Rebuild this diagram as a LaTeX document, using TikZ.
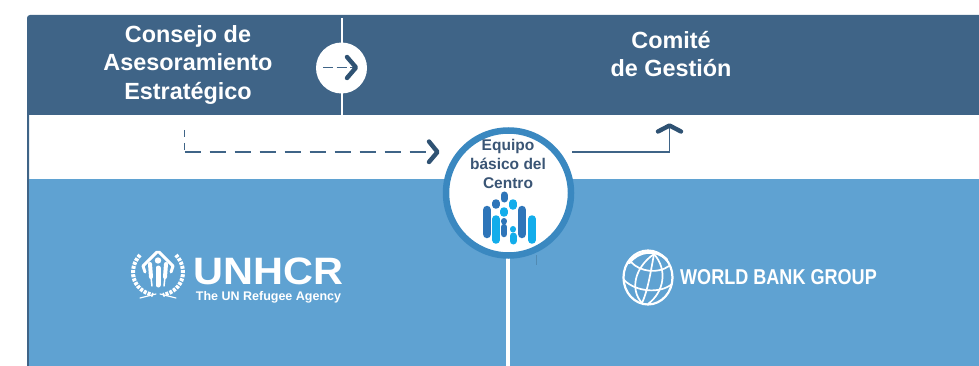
\documentclass[tikz,border=0pt]{standalone}
\usepackage{fontspec}
\setmainfont{Liberation Sans}
\usetikzlibrary{positioning,arrows,calc,shapes.geometric}
\definecolor{headblue}{HTML}{3F6487}
\definecolor{bandblue}{HTML}{5FA2D2}
\definecolor{ringblue}{HTML}{3A88C0}
\definecolor{arrowblue}{HTML}{2F5273}
\definecolor{textblue}{HTML}{3A5575}
\definecolor{iconblue}{HTML}{2E75B9}
\definecolor{iconlight}{HTML}{12ADEB}
\tikzset{
  headtext/.style={font=\bfseries\fontsize{23.4}{28.5}\selectfont,text=white,align=center},
  hubtext/.style={font=\bfseries\fontsize{15.5}{19}\selectfont,text=textblue,align=center},
  chevron/.style={arrowblue,line width=4.4pt,line cap=round,line join=round},
  flow/.style={headblue,line width=1.8pt},
  iconbar/.style={line cap=round,line width=8.5pt},
  logoline/.style={white,line cap=round,line join=round},
  wreath/.style={white,line width=4pt,dash pattern=on 3pt off 1.2pt}
}
\begin{document}
\begin{tikzpicture}[x=1pt,y=-1pt]
\useasboundingbox (0,0) rectangle (979,366);
\fill[headblue] (27,366) -- (27,18) [rounded corners=3pt] -- (27,15) [sharp corners] -- (979,15) -- (979,115) -- (29,115) -- (29,366) -- cycle;
\fill[bandblue] (29,179) rectangle (979,366);
\coordinate (gatetop) at (342,18);
\coordinate (gatebottom) at (342,115);
\coordinate (hubbottom) at (508,366);
\draw[white,line width=2.8pt] (gatetop) -- (gatebottom);
\node[circle,fill=white,minimum size=51pt,inner sep=0pt] (gate) at (341.5,68) {};
\coordinate (gatein) at (323,67.5);
\coordinate (gatetip) at (356,67.5);
\draw[flow,dash pattern=on 10pt off 3.5pt] (gatein) -- (gatetip);
\draw[chevron] (347,57) -- (356,67.5) -- (347,78);
\node[headtext] (council) at (188,65) {Consejo de\\Asesoramiento\\Estratégico};
\node[headtext] (committee) at (671,54) {Comité\\de Gestión};
\draw[white,line width=4pt] (508,250) -- (hubbottom);
\draw[bandblue!85!black,line width=.4pt] (536,255) -- (536,265);
\node[circle,draw=ringblue,line width=6.5pt,fill=white,minimum size=125pt,inner sep=0pt] (hub) at (508.5,193) {};
\node[hubtext] (hubtitle) at (508,163.5) {Equipo\\básico del\\Centro};
\coordinate (dashstart) at (184.5,130);
\coordinate (dashcorner) at (184.5,152);
\coordinate (dashend) at (437,152);
\draw[flow,dash pattern=on 7pt off 6pt] (dashstart) -- (dashcorner);
\draw[flow,dash pattern=on 16pt off 9pt] (dashcorner) -- (dashend);
\draw[chevron] (429,141.5) -- (437.5,152) -- (429,162);
\coordinate (solidstart) at (572,152);
\coordinate (solidcorner) at (669.5,152);
\coordinate (solidend) at (669.5,128);
\draw[flow] (solidstart) -- (solidcorner) -- (solidend);
\draw[chevron] (658,131.5) -- (669.5,125.5) -- (681,131.5);
\draw[iconbar,iconblue] (487,210) -- (487,234);
\draw[iconbar,iconblue] (522,210) -- (522,234);
\draw[iconbar,iconblue,line width=7pt] (504,195) -- (504,199);
\draw[iconbar,iconblue,line width=7.5pt] (496,203) -- (496,205);
\draw[iconbar,iconblue,line width=6pt] (504,221) -- (504,221.5);
\draw[iconbar,iconblue,line width=6.5pt] (504,227) -- (504,234);
\draw[iconbar,iconlight,line width=7.5pt] (504,211) -- (504,213);
\draw[iconbar,iconlight,line width=7.5pt] (513,203) -- (513,206);
\draw[iconbar,iconlight,line width=6pt] (513,229) -- (513,229.5);
\draw[iconbar,iconlight,line width=7pt] (513,236) -- (513,241);
\draw[iconbar,iconlight,line width=7.5pt] (496,219) -- (496,240);
\draw[iconbar,iconlight,line width=7.5pt] (532,219) -- (532,240);
\draw[wreath] (140,255) .. controls (128,268) and (131,290) .. (153,295);
\draw[wreath] (176,255) .. controls (188,268) and (185,290) .. (163,295);
\draw[logoline,line width=1.2pt] (140,298) -- (156,294);
\draw[logoline,line width=1.2pt] (176,298) -- (160,294);
\draw[logoline,line width=3pt] (145,272) -- (143,266) -- (157,252);
\draw[logoline,line width=3pt] (171,272) -- (173,266) -- (159,252);
\fill[white] (158,260.5) circle (3.2pt);
\draw[logoline,line width=5pt] (158,268) -- (158,285);
\draw[logoline,line width=4pt] (150,264) -- (151,277);
\draw[logoline,line width=4pt] (166,264) -- (165,277);
\draw[logoline,line width=1.5pt] (151,277) -- (152,286);
\draw[logoline,line width=1.5pt] (165,277) -- (164,286);
\node[font=\bfseries\fontsize{41.5}{41.5}\selectfont,text=white,inner sep=0pt,yscale=.92] (unhcr) at (268.5,271.5) {UNHCR};
\node[font=\bfseries\fontsize{12.5}{12.5}\selectfont,text=white,inner sep=0pt] (agency) at (268.5,297) {The UN Refugee Agency};
\node[ellipse,draw=white,line width=2.2pt,minimum width=49pt,minimum height=54pt,inner sep=0pt] (globe) at (648,277.5) {};
\draw[logoline,line width=2.6pt] (629,263) .. controls (638,251) and (656,248) .. (667,260);
\draw[logoline,line width=1.7pt] (654,254) .. controls (634,268) and (630,290) .. (642,303);
\draw[logoline,line width=1.7pt] (654,254) .. controls (651,270) and (648,290) .. (642,303);
\draw[logoline,line width=1.7pt] (654,254) .. controls (668,270) and (664,292) .. (648,304);
\draw[logoline,line width=1.7pt] (631,262) .. controls (640,272) and (658,274) .. (669,266);
\draw[logoline,line width=1.7pt] (624,280) .. controls (636,292) and (660,294) .. (672,284);
\node[font=\bfseries\fontsize{21.5}{21.5}\selectfont,text=white,inner sep=0pt,xscale=.84] (worldbank) at (778.5,277) {WORLD BANK GROUP};
\end{tikzpicture}
\end{document}
